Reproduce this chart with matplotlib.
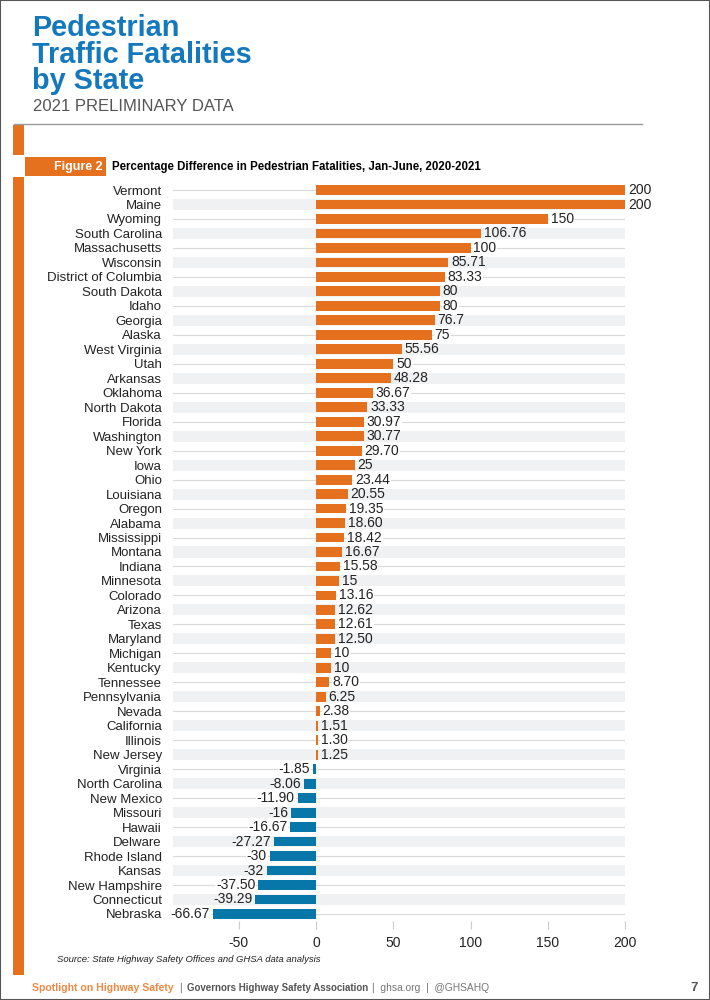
import matplotlib
matplotlib.use("Agg")
import matplotlib.pyplot as plt
from matplotlib.patches import Rectangle

plt.rcParams['font.family'] = ['Liberation Sans', 'DejaVu Sans']

states = ["Vermont", "Maine", "Wyoming", "South Carolina", "Massachusetts", "Wisconsin",
          "District of Columbia", "South Dakota", "Idaho", "Georgia", "Alaska", "West Virginia",
          "Utah", "Arkansas", "Oklahoma", "North Dakota", "Florida", "Washington", "New York",
          "Iowa", "Ohio", "Louisiana", "Oregon", "Alabama", "Mississippi", "Montana", "Indiana",
          "Minnesota", "Colorado", "Arizona", "Texas", "Maryland", "Michigan", "Kentucky",
          "Tennessee", "Pennsylvania", "Nevada", "California", "Illinois", "New Jersey",
          "Virginia", "North Carolina", "New Mexico", "Missouri", "Hawaii", "Delware",
          "Rhode Island", "Kansas", "New Hampshire", "Connecticut", "Nebraska"]
values = [200, 200, 150, 106.76, 100, 85.71, 83.33, 80, 80, 76.7, 75, 55.56, 50, 48.28,
          36.67, 33.33, 30.97, 30.77, 29.70, 25, 23.44, 20.55, 19.35, 18.60, 18.42, 16.67,
          15.58, 15, 13.16, 12.62, 12.61, 12.50, 10, 10, 8.70, 6.25, 2.38, 1.51, 1.30, 1.25,
          -1.85, -8.06, -11.90, -16, -16.67, -27.27, -30, -32, -37.50, -39.29, -66.67]
value_labels = ["200", "200", "150", "106.76", "100", "85.71", "83.33", "80", "80", "76.7",
                "75", "55.56", "50", "48.28", "36.67", "33.33", "30.97", "30.77", "29.70",
                "25", "23.44", "20.55", "19.35", "18.60", "18.42", "16.67", "15.58", "15",
                "13.16", "12.62", "12.61", "12.50", "10", "10", "8.70", "6.25", "2.38", "1.51",
                "1.30", "1.25", "-1.85", "-8.06", "-11.90", "-16", "-16.67", "-27.27", "-30",
                "-32", "-37.50", "-39.29", "-66.67"]
xticks = [-50, 0, 50, 100, 150, 200]

ORANGE = "#E5711F"
BLUE = "#0677A8"
TITLE_BLUE = "#1478BC"
TEXT = "#222222"
STRIPE = "#F0F1F3"

W, H = 710, 1000
fig = plt.figure(figsize=(W / 100, H / 100), dpi=100)

def fx(px):
    return px / W

def fy(py):
    return 1 - py / H

# page frame
fig.patches.append(Rectangle((0, 0), 1, 1, transform=fig.transFigure, fill=False,
                             edgecolor="#555555", lw=1.5))

# titles
for line, base in zip(["Pedestrian", "Traffic Fatalities", "by State"], [36, 63, 89]):
    fig.text(fx(32), fy(base), line, color=TITLE_BLUE, fontsize=20.8,
             fontweight="bold", va="baseline", ha="left")
fig.text(fx(33), fy(111), "2021 PRELIMINARY DATA", color="#555555", fontsize=12,
         ha="left", va="baseline")

# horizontal rule
fig.add_artist(plt.Line2D([fx(14), fx(642)], [fy(124), fy(124)], color="#999999", lw=1,
                          transform=fig.transFigure))

# orange side bars
fig.patches.append(Rectangle((fx(13), fy(155)), fx(24) - fx(13), fy(125) - fy(155),
                             transform=fig.transFigure, color=ORANGE, lw=0))
fig.patches.append(Rectangle((fx(13), fy(975)), fx(24) - fx(13), fy(177) - fy(975),
                             transform=fig.transFigure, color=ORANGE, lw=0))
fig.patches.append(Rectangle((fx(25), fy(176)), fx(106) - fx(25), fy(157) - fy(176),
                             transform=fig.transFigure, color=ORANGE, lw=0))
fig.text(fx(102), fy(167), "Figure 2", color="white", fontsize=9, fontweight="bold",
         ha="right", va="center")
fig.text(fx(112), fy(167), "Percentage Difference in Pedestrian Fatalities, Jan-June, 2020-2021",
         color="black", fontsize=8.3, fontweight="bold", ha="left", va="center")

# axes
left_px, right_px = 173, 625
top_px, bot_px = 182.8, 921.2
ax = fig.add_axes([fx(left_px), fy(bot_px), fx(right_px) - fx(left_px), (bot_px - top_px) / H])
xmin = -(316 - left_px) / ((625 - 316) / 200)
ax.set_xlim(xmin, 200)
n = len(states)
ax.set_ylim(n - 0.5, -0.5)

for i in range(n):
    if i % 2 == 1:
        ax.axhspan(i - 0.38, i + 0.38, color=STRIPE, lw=0, zorder=0)
    else:
        ax.axhline(i, color="#DADADA", lw=0.8, zorder=0.5)

colors = [ORANGE if v >= 0 else BLUE for v in values]
ax.barh(range(n), values, height=0.68, color=colors, zorder=2)

for i, (v, lab) in enumerate(zip(values, value_labels)):
    box = dict(facecolor="white", edgecolor="none", pad=0.5) if i % 2 == 0 else None
    if v >= 0:
        ax.text(v + 1.8, i, lab, ha="left", va="center", fontsize=10, color=TEXT,
                clip_on=False, zorder=3, bbox=box)
    else:
        ax.text(v - 1.8, i, lab, ha="right", va="center", fontsize=10, color=TEXT,
                clip_on=False, zorder=3, bbox=box)

ax.set_yticks(range(n))
ax.set_yticklabels(states, fontsize=9.5, color=TEXT)
ax.tick_params(axis="y", length=0, pad=8)
ax.set_xticks(xticks)
ax.set_xticklabels([str(t) for t in xticks], fontsize=10, color=TEXT)
ax.tick_params(axis="x", length=6, color="#CCCCCC", width=0.8, pad=5)
for s in ax.spines.values():
    s.set_visible(False)
ax.set_facecolor("none")

# source
fig.text(fx(57), fy(960), "Source: State Highway Safety Offices and GHSA data analysis",
         fontsize=6.8, style="italic", color=TEXT, ha="left", va="center")

# footer
fy_f = fy(988)
fig.text(fx(32), fy_f, "Spotlight on Highway Safety", fontsize=7.6, fontweight="bold",
         color="#EE8A45", ha="left", va="center")
fig.text(fx(179), fy_f, "|", fontsize=7.6, color="#777777", ha="left", va="center")
fig.text(fx(187), fy_f, "Governors Highway Safety Association", fontsize=7.0, fontweight="bold",
         color="#555555", ha="left", va="center")
fig.text(fx(372), fy_f, "|  ghsa.org  |  @GHSAHQ", fontsize=7.4, color="#777777",
         ha="left", va="center")
fig.text(fx(698), fy_f, "7", fontsize=9.5, fontweight="bold", color="#555555",
         ha="right", va="center")

fig.savefig("out.png", dpi=100)
